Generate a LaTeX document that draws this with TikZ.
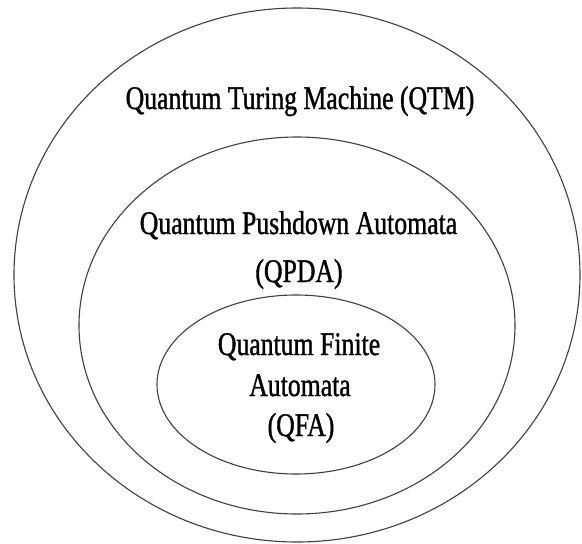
\documentclass[tikz,border=0pt]{standalone}
\usepackage{fontspec}
\setmainfont{Liberation Serif}[FakeStretch=0.78,FakeBold=1.1]
\usetikzlibrary{shapes.geometric}
\begin{document}
\begin{tikzpicture}[x=1pt,y=-1pt,
  ring/.style={ellipse,draw=black!75,line width=1.1pt,inner sep=0pt},
  lbl/.style={anchor=base,inner sep=0pt,font=\fontsize{33}{40}\selectfont}]
\useasboundingbox[fill=white] (0,0) rectangle (582,544);
\node[ring,minimum width=566pt,minimum height=534pt] (qtm) at (297,275) {};
\node[ring,minimum width=436pt,minimum height=377pt] (qpda) at (297,325.5) {};
\node[ring,minimum width=278pt,minimum height=179pt] (qfa) at (296,384.5) {};
\node[lbl] (tqtm) at (300,109) {Quantum Turing Machine (QTM)};
\node[lbl] (tqpdaA) at (298.5,234) {Quantum Pushdown Automata};
\node[lbl] (tqpdaB) at (299,282) {(QPDA)};
\node[lbl] (tqfaA) at (299,355) {Quantum Finite};
\node[lbl] (tqfaB) at (300,396) {Automata};
\node[lbl] (tqfaC) at (301,436) {(QFA)};
\end{tikzpicture}
\end{document}
